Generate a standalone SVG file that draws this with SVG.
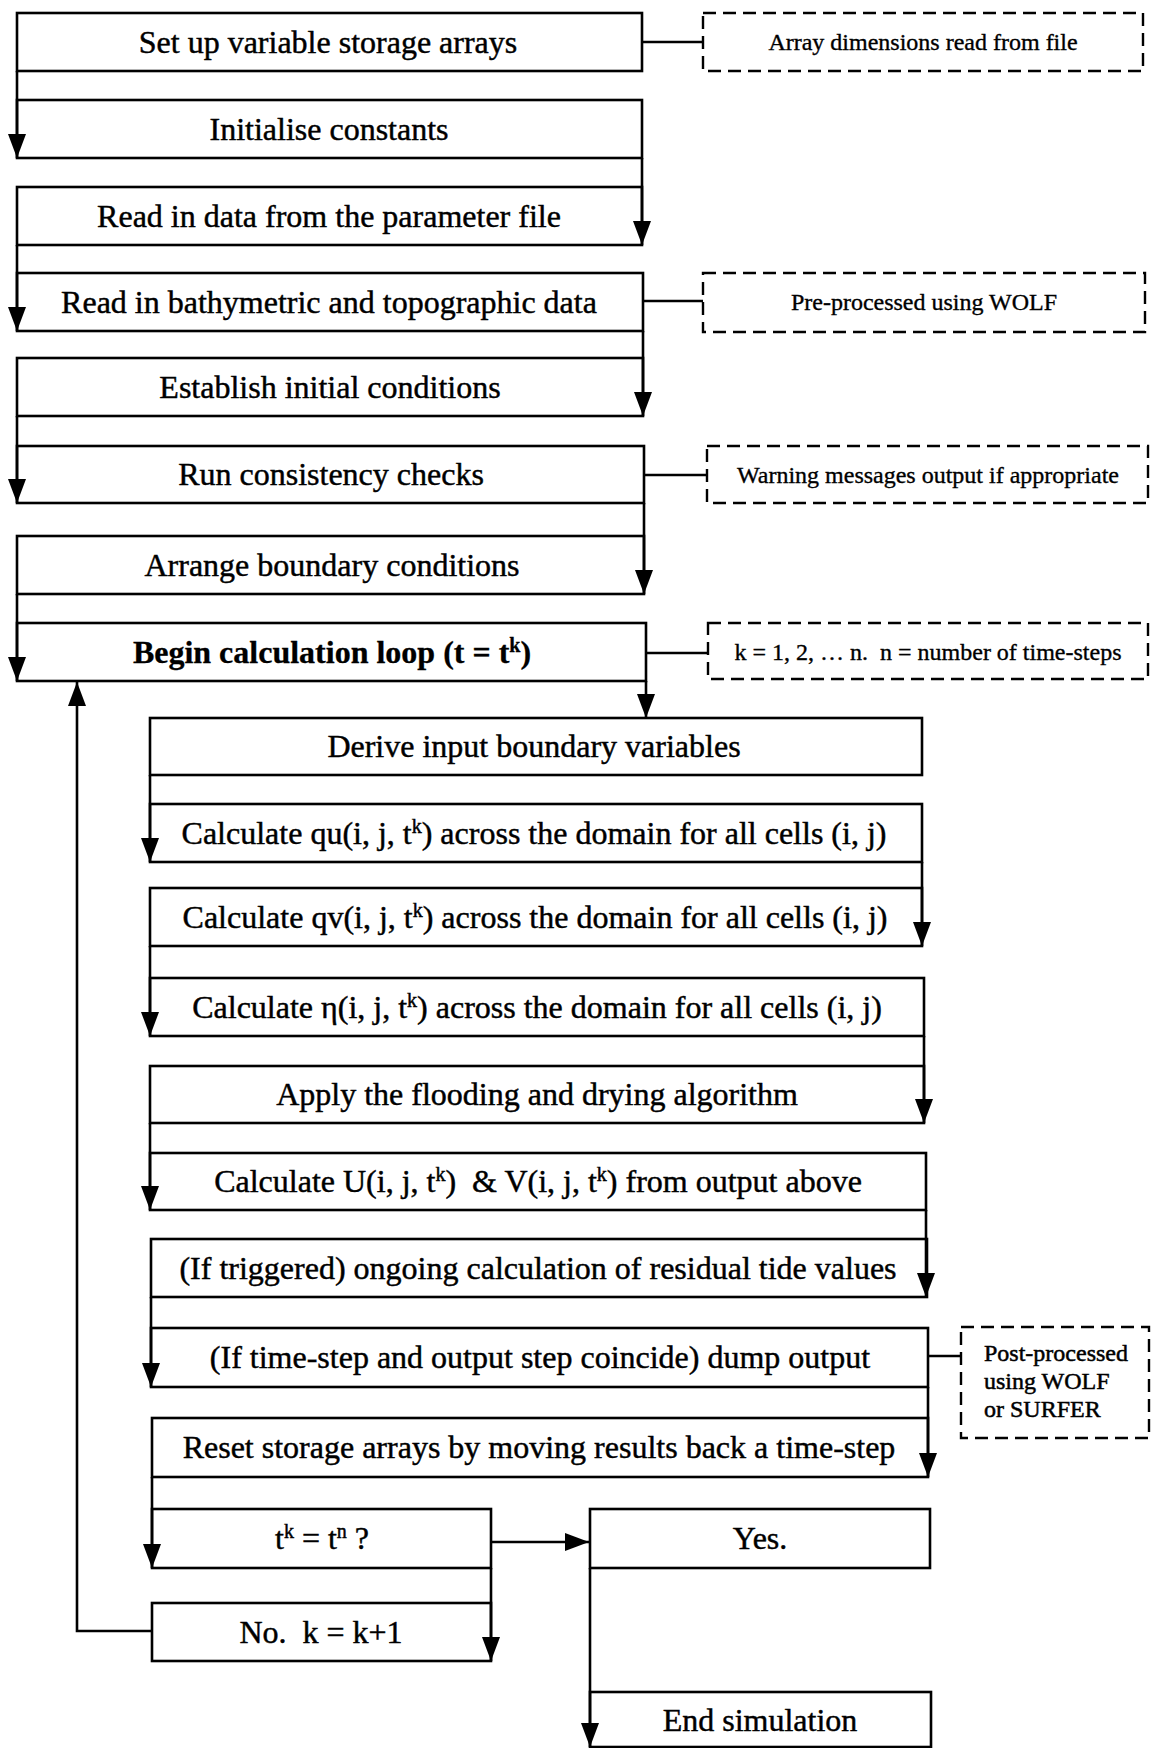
<svg xmlns="http://www.w3.org/2000/svg" width="1151" height="1748" viewBox="0 0 1151 1748">
<style>
.box{fill:#fff;stroke:#000;stroke-width:2.6}
.dash{fill:none;stroke:#000;stroke-width:2.4;stroke-dasharray:13 7}
.t{font-family:"Liberation Serif","Times New Roman",serif;font-size:32px;fill:#000;stroke:#000;stroke-width:0.45;text-anchor:middle}
.b{font-weight:bold;stroke-width:0.3}
.s{font-family:"Liberation Serif","Times New Roman",serif;font-size:24px;fill:#000;stroke:#000;stroke-width:0.35;text-anchor:middle}
.sl{font-family:"Liberation Serif","Times New Roman",serif;font-size:24px;fill:#000;stroke:#000;stroke-width:0.5}
.c{fill:none;stroke:#000;stroke-width:2.6}
.sup{font-size:20px}
</style>
<defs>
<marker id="ah" markerUnits="userSpaceOnUse" markerWidth="24" markerHeight="18" refX="24" refY="9" orient="auto">
<path d="M0,0 L24,9 L0,18 Z" fill="#000"/>
</marker>
</defs>
<rect width="1151" height="1748" fill="#fff"/>

<g id="n1"><rect class="box" x="17" y="13" width="625" height="58"/><text class="t" x="328" y="53">Set up variable storage arrays</text></g>
<g id="n2"><rect class="box" x="17" y="100" width="625" height="58"/><text class="t" x="329" y="140">Initialise constants</text></g>
<g id="n3"><rect class="box" x="17" y="187" width="625" height="58"/><text class="t" x="329" y="227">Read in data from the parameter file</text></g>
<g id="n4"><rect class="box" x="17" y="273" width="626" height="58"/><text class="t" x="329" y="313">Read in bathymetric and topographic data</text></g>
<g id="n5"><rect class="box" x="17" y="358" width="626" height="58"/><text class="t" x="330" y="398">Establish initial conditions</text></g>
<g id="n6"><rect class="box" x="17" y="446" width="627" height="57"/><text class="t" x="331" y="485">Run consistency checks</text></g>
<g id="n7"><rect class="box" x="17" y="536" width="627" height="58"/><text class="t" x="332" y="576">Arrange boundary conditions</text></g>
<g id="n8"><rect class="box" x="17" y="623" width="629" height="58"/><text class="t b" x="332" y="663">Begin calculation loop (t = t<tspan class="sup" baseline-shift="super">k</tspan>)</text></g>

<g id="d1"><rect class="dash" x="703" y="13" width="440" height="58"/><text class="s" x="923" y="50">Array dimensions read from file</text></g>
<g id="d2"><rect class="dash" x="703" y="273" width="442" height="59"/><text class="s" x="924" y="310">Pre-processed using WOLF</text></g>
<g id="d3"><rect class="dash" x="707" y="446" width="441" height="57"/><text class="s" x="928" y="483">Warning messages output if appropriate</text></g>
<g id="d4"><rect class="dash" x="708" y="623" width="440" height="56"/><text class="s" x="928" y="660" xml:space="preserve">k = 1, 2, … n.  n = number of time-steps</text></g>
<g id="d5"><rect class="dash" x="961" y="1327" width="188" height="111"/><text class="sl" x="984" y="1361">Post-processed</text><text class="sl" x="984" y="1389">using WOLF</text><text class="sl" x="984" y="1417">or SURFER</text></g>

<g id="n9"><rect class="box" x="150" y="718" width="772" height="57"/><text class="t" x="534" y="757">Derive input boundary variables</text></g>
<g id="n10"><rect class="box" x="150" y="804" width="772" height="58"/><text class="t" x="534" y="844">Calculate qu(i, j, t<tspan class="sup" baseline-shift="super">k</tspan>) across the domain for all cells (i, j)</text></g>
<g id="n11"><rect class="box" x="150" y="888" width="772" height="58"/><text class="t" x="535" y="928">Calculate qv(i, j, t<tspan class="sup" baseline-shift="super">k</tspan>) across the domain for all cells (i, j)</text></g>
<g id="n12"><rect class="box" x="150" y="978" width="774" height="58"/><text class="t" x="537" y="1018">Calculate η(i, j, t<tspan class="sup" baseline-shift="super">k</tspan>) across the domain for all cells (i, j)</text></g>
<g id="n13"><rect class="box" x="150" y="1066" width="774" height="57"/><text class="t" x="537" y="1105">Apply the flooding and drying algorithm</text></g>
<g id="n14"><rect class="box" x="150" y="1153" width="776" height="57"/><text class="t" x="538" y="1192" xml:space="preserve">Calculate U(i, j, t<tspan class="sup" baseline-shift="super">k</tspan>)  &amp; V(i, j, t<tspan class="sup" baseline-shift="super">k</tspan>) from output above</text></g>
<g id="n15"><rect class="box" x="151" y="1239" width="776" height="58"/><text class="t" x="538" y="1279">(If triggered) ongoing calculation of residual tide values</text></g>
<g id="n16"><rect class="box" x="151" y="1328" width="777" height="59"/><text class="t" x="540" y="1368">(If time-step and output step coincide) dump output</text></g>
<g id="n17"><rect class="box" x="152" y="1418" width="776" height="59"/><text class="t" x="539" y="1458">Reset storage arrays by moving results back a time-step</text></g>
<g id="n18"><rect class="box" x="152" y="1509" width="339" height="59"/><text class="t" x="322" y="1549">t<tspan class="sup" baseline-shift="super">k</tspan> = t<tspan class="sup" baseline-shift="super">n</tspan> ?</text></g>
<g id="n19"><rect class="box" x="152" y="1603" width="339" height="58"/><text class="t" x="321" y="1643" xml:space="preserve">No.  k = k+1</text></g>
<g id="n20"><rect class="box" x="590" y="1509" width="340" height="59"/><text class="t" x="760" y="1549">Yes.</text></g>
<g id="n21"><rect class="box" x="590" y="1692" width="341" height="55"/><text class="t" x="760" y="1731">End simulation</text></g>

<g id="connectors">
<line class="c" x1="17" y1="71" x2="17" y2="158" marker-end="url(#ah)"/>
<line class="c" x1="642" y1="158" x2="642" y2="245" marker-end="url(#ah)"/>
<line class="c" x1="17" y1="245" x2="17" y2="331" marker-end="url(#ah)"/>
<line class="c" x1="643" y1="331" x2="643" y2="416" marker-end="url(#ah)"/>
<line class="c" x1="17" y1="416" x2="17" y2="503" marker-end="url(#ah)"/>
<line class="c" x1="644" y1="503" x2="644" y2="594" marker-end="url(#ah)"/>
<line class="c" x1="17" y1="594" x2="17" y2="681" marker-end="url(#ah)"/>
<line class="c" x1="646" y1="681" x2="646" y2="718" marker-end="url(#ah)"/>
<line class="c" x1="150" y1="775" x2="150" y2="862" marker-end="url(#ah)"/>
<line class="c" x1="922" y1="862" x2="922" y2="946" marker-end="url(#ah)"/>
<line class="c" x1="150" y1="946" x2="150" y2="1036" marker-end="url(#ah)"/>
<line class="c" x1="924" y1="1036" x2="924" y2="1123" marker-end="url(#ah)"/>
<line class="c" x1="150" y1="1123" x2="150" y2="1210" marker-end="url(#ah)"/>
<line class="c" x1="926" y1="1210" x2="926" y2="1297" marker-end="url(#ah)"/>
<line class="c" x1="151" y1="1297" x2="151" y2="1387" marker-end="url(#ah)"/>
<line class="c" x1="928" y1="1387" x2="928" y2="1477" marker-end="url(#ah)"/>
<line class="c" x1="152" y1="1477" x2="152" y2="1568" marker-end="url(#ah)"/>
<line class="c" x1="491" y1="1568" x2="491" y2="1661" marker-end="url(#ah)"/>
<polyline class="c" points="152,1631 77,1631 77,682" marker-end="url(#ah)"/>
<line class="c" x1="491" y1="1542" x2="589" y2="1542" marker-end="url(#ah)"/>
<line class="c" x1="590" y1="1568" x2="590" y2="1747" marker-end="url(#ah)"/>
<line class="c" x1="642" y1="42" x2="703" y2="42"/>
<line class="c" x1="643" y1="301" x2="703" y2="301"/>
<line class="c" x1="644" y1="475" x2="707" y2="475"/>
<line class="c" x1="646" y1="653" x2="708" y2="653"/>
<line class="c" x1="928" y1="1356" x2="961" y2="1356"/>
</g>
</svg>
